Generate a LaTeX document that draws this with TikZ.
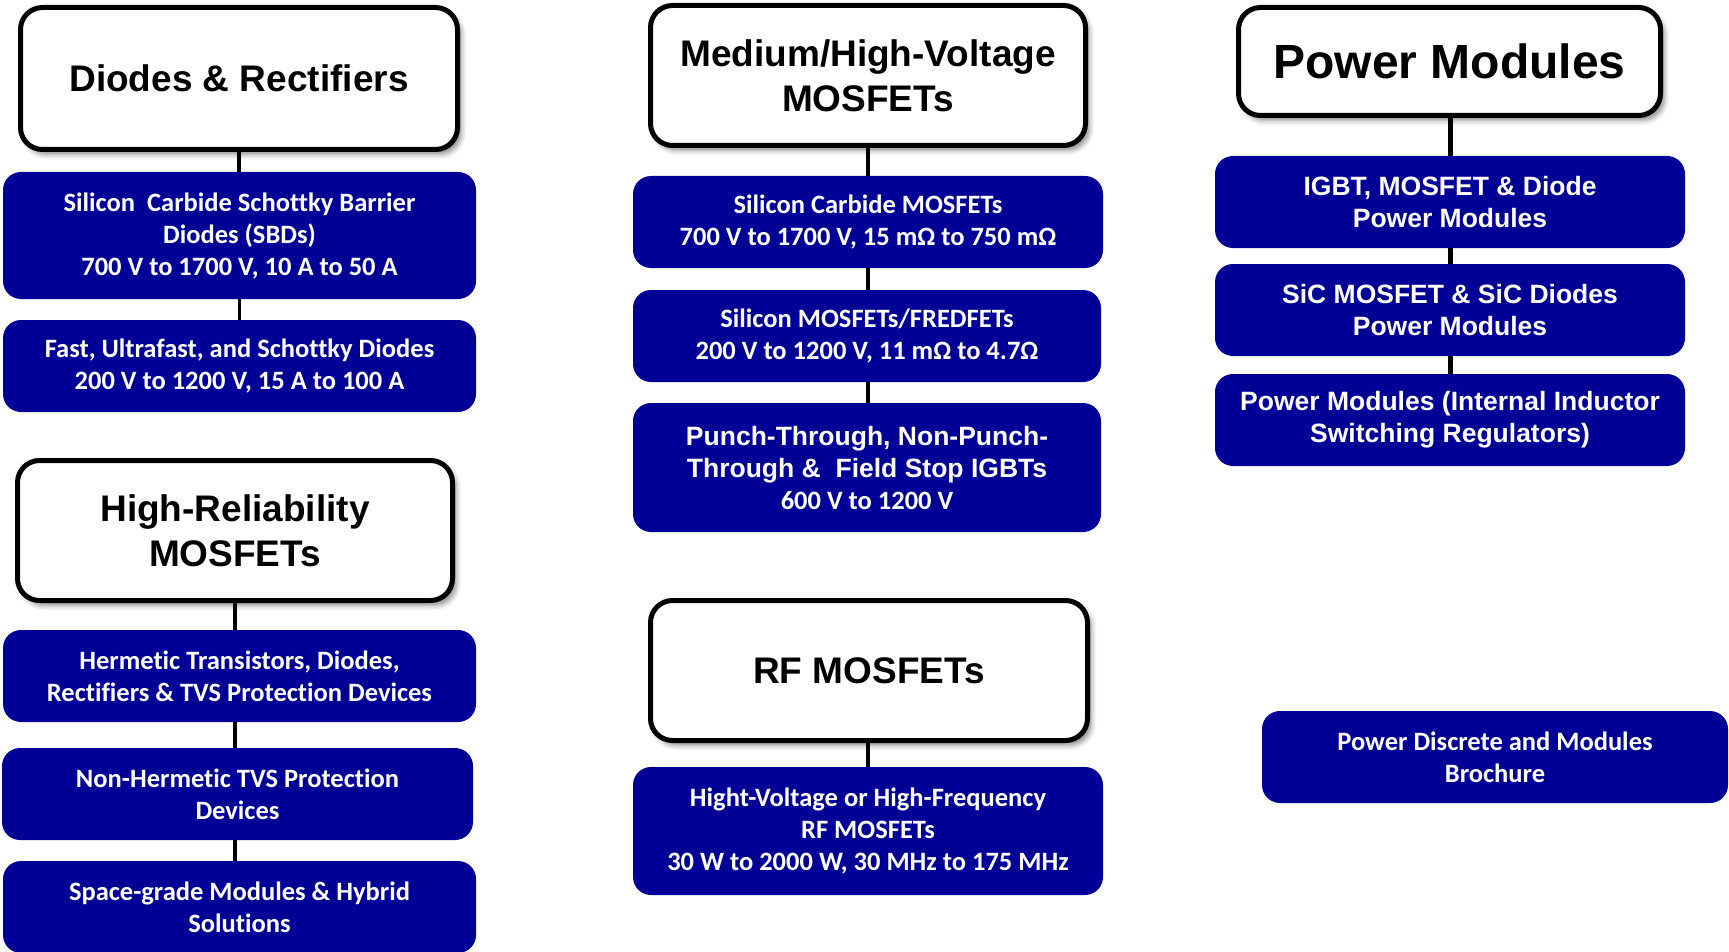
\documentclass[tikz,border=0pt]{standalone}
\usepackage{fontspec}
\setmainfont[Ligatures=NoCommon]{Liberation Sans}
\newfontfamily\calib[Ligatures=NoCommon]{Carlito}
\usetikzlibrary{shadows.blur}
\definecolor{boxblue}{RGB}{0,0,150}
\begin{document}
\begin{tikzpicture}[x=1pt,y=-1pt,
  hdr/.style={draw=black, line width=5pt, rounded corners=22pt, fill=white, align=center,
    font=\bfseries\fontsize{37}{45}\selectfont, inner sep=0pt,
    blur shadow={shadow xshift=4pt, shadow yshift=-5pt, shadow blur radius=5pt, shadow opacity=45}},
  bbox/.style={fill=boxblue, rounded corners=18pt, text=white, align=center, inner sep=0pt,
    font=\calib\bfseries\fontsize{26.5}{32}\selectfont},
  abox/.style={bbox, font=\bfseries\fontsize{26.5}{32}\selectfont},
  conn/.style={line width=3.5pt, black},
  connw/.style={line width=5pt, black}]
\useasboundingbox (0,0) rectangle (1729,952);

% Column 1: Diodes & Rectifiers
\node[hdr, minimum width=437pt, minimum height=142pt] (dh) at (239,78.5) {Diodes \& Rectifiers};
\node[bbox, minimum width=473pt, minimum height=127pt] (d1) at (239.5,235.5)
  {Silicon\ \ Carbide Schottky Barrier\\Diodes (SBDs)\\700 V to 1700 V, 10 A to 50 A};
\node[bbox, minimum width=473pt, minimum height=92pt] (d2) at (239.5,366)
  {Fast, Ultrafast, and Schottky Diodes\\200 V to 1200 V, 15 A to 100 A};

% Column 1: High-Reliability
\node[hdr, minimum width=435pt, minimum height=140pt] (hh) at (235,530.5) {High-Reliability\\MOSFETs};
\node[bbox, minimum width=473pt, minimum height=92pt] (h1) at (239.5,676)
  {Hermetic Transistors, Diodes,\\Rectifiers \& TVS Protection Devices};
\node[bbox, minimum width=471pt, minimum height=92pt] (h2) at (237.5,794)
  {Non-Hermetic TVS Protection\\Devices};
\node[bbox, minimum width=473pt, minimum height=92pt] (h3) at (239.5,907)
  {Space-grade Modules \& Hybrid\\Solutions};

% Column 2: Medium/High-Voltage
\node[hdr, minimum width=435pt, minimum height=140pt] (mh) at (868,75.5) {Medium/High-Voltage\\MOSFETs};
\node[bbox, minimum width=470pt, minimum height=92pt] (m1) at (868,222)
  {Silicon Carbide MOSFETs\\700 V to 1700 V, 15 mΩ to 750 mΩ};
\node[bbox, minimum width=468pt, minimum height=92pt] (m2) at (867,336)
  {Silicon MOSFETs/FREDFETs\\200 V to 1200 V, 11 mΩ to 4.7Ω};
\node[abox, minimum width=468pt, minimum height=129pt] (m3) at (867,467.5)
  {Punch-Through, Non-Punch-\\Through \&\ \ Field Stop IGBTs\\{\calib 600 V to 1200 V}};

% Column 2: RF MOSFETs
\node[hdr, minimum width=437pt, minimum height=140pt] (rh) at (869,670.5) {RF MOSFETs};
\node[bbox, minimum width=470pt, minimum height=128pt] (r1) at (868,831)
  {Hight-Voltage or High-Frequency\\RF MOSFETs\\30 W to 2000 W, 30 MHz to 175 MHz};

% Column 3: Power Modules
\node[hdr, minimum width=422pt, minimum height=108pt, font=\bfseries\fontsize{48}{56}\selectfont] (ph) at (1449.5,61.5) {Power Modules};
\node[abox, minimum width=470pt, minimum height=92pt] (p1) at (1450,202)
  {IGBT, MOSFET \& Diode\\Power Modules};
\node[abox, minimum width=470pt, minimum height=92pt] (p2) at (1450,310)
  {SiC MOSFET \& SiC Diodes\\Power Modules};
\node[abox, minimum width=470pt, minimum height=92pt] (p3) at (1450,420)
  {Power Modules (Internal Inductor\\Switching Regulators)};

% Brochure
\node[bbox, minimum width=466pt, minimum height=92pt] (br) at (1495,757)
  {Power Discrete and Modules\\Brochure};

% Connectors
\draw[conn] (dh.south) -- (dh.south |- d1.north);
\draw[conn] (d1.south) -- (d2.north);
\draw[conn] (hh.south) -- (hh.south |- h1.north);
\draw[conn] (h1.south -| hh.south) -- (hh.south |- h2.north);
\draw[conn] (h2.south -| hh.south) -- (hh.south |- h3.north);
\draw[conn] (mh.south) -- (mh.south |- m1.north);
\draw[conn] (m1.south -| mh.south) -- (mh.south |- m2.north);
\draw[conn] (m2.south -| mh.south) -- (mh.south |- m3.north);
\draw[conn] (rh.south -| r1.north) -- (r1.north);
\draw[connw] (ph.south -| p1.north) -- (p1.north);
\draw[connw] (p1.south) -- (p2.north);
\draw[connw] (p2.south) -- (p3.north);
\end{tikzpicture}
\end{document}
